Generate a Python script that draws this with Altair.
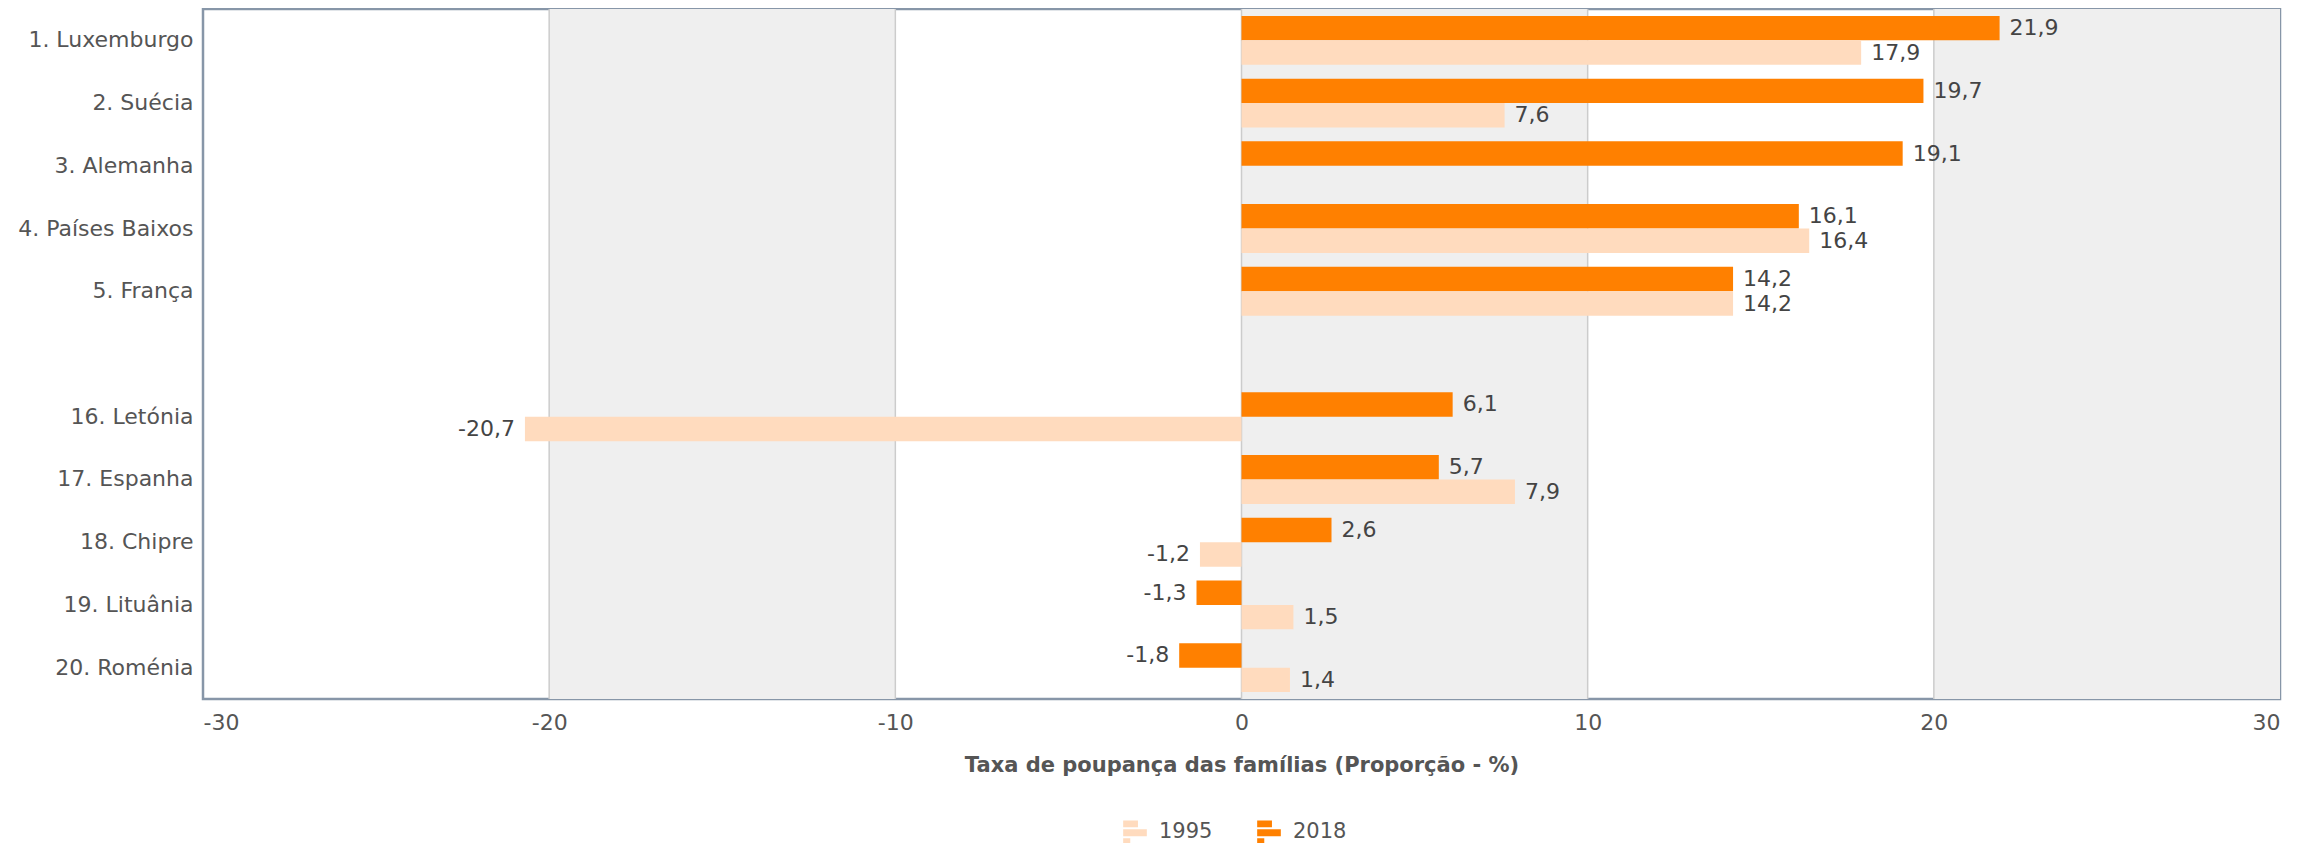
import altair as alt
import pandas as pd

# ---------------- data ----------------
countries = ["1. Luxemburgo", "2. Suécia", "3. Alemanha", "4. Países Baixos", "5. França",
             "16. Letónia", "17. Espanha", "18. Chipre", "19. Lituânia", "20. Roménia"]
gap_label = " "
values_2018 = [21.9, 19.7, 19.1, 16.1, 14.2, 6.1, 5.7, 2.6, -1.3, -1.8]
values_1995 = [17.9, 7.6, None, 16.4, 14.2, -20.7, 7.9, -1.2, 1.5, 1.4]
series = ["1995", "2018"]
x_ticks = [-30, -20, -10, 0, 10, 20, 30]
grid_ticks = [-20, -10, 0, 10, 20]
shaded_from = [-20, 0, 20]
shaded_to = [-10, 10, 30]

y_domain = countries[:5] + [gap_label] + countries[5:]

rows = []
for c, v18, v95 in zip(countries, values_2018, values_1995):
    for s, v in (("2018", v18), ("1995", v95)):
        if v is None:
            continue
        rows.append({"country": c, "series": s, "value": v,
                     "label": f"{v:.1f}".replace(".", ",")})
df = pd.DataFrame(rows)
bands_df = pd.DataFrame({"start": shaded_from, "end": shaded_to})
grid_df = pd.DataFrame({"tick": grid_ticks})

# ---------------- styles ----------------
DARK = "#FF8000"
LIGHT = "#FFDBBE"
TEXT = "#444444"
FONT = "DejaVu Sans"

x_scale = alt.Scale(domain=[-30, 30], nice=False, zero=False)
x_axis = alt.Axis(values=x_ticks, grid=False, domain=False, ticks=False,
                  labelExpr="'' + datum.value",
                  labelFontSize=22, labelColor="#555555", labelPadding=13,
                  labelFont=FONT,
                  title="Taxa de poupança das famílias (Proporção - %)",
                  titleFontSize=21, titleFontWeight="bold", titleColor="#555555",
                  titlePadding=21, titleFont=FONT)
y_scale = alt.Scale(domain=y_domain, paddingInner=0.22, paddingOuter=0.11)
y_axis = alt.Axis(title=None, domain=False, ticks=False, labelFontSize=22,
                  labelColor="#555555", labelPadding=10, labelLimit=0, labelFont=FONT)
off_scale = alt.Scale(domain=["2018", "1995"], paddingInner=0, paddingOuter=0)

legend_path = ("M-1,-1H0.25V-0.42H-1Z M-1,-0.25H1V0.33H-1Z M-1,0.5H-0.4V1.05H-1Z")

bands = alt.Chart(bands_df).mark_rect(color="#EFEFEF").encode(
    x=alt.X("start:Q", scale=x_scale, axis=x_axis),
    x2="end:Q",
)

grid = alt.Chart(grid_df).mark_rule(color="#CCCCCC", strokeWidth=1.5).encode(
    x=alt.X("tick:Q", scale=x_scale),
)

bars = alt.Chart(df).mark_bar().encode(
    y=alt.Y("country:N", scale=y_scale, axis=y_axis, sort=y_domain),
    x=alt.X("value:Q", scale=x_scale),
    yOffset=alt.YOffset("series:N", scale=off_scale),
    color=alt.Color("series:N",
                    scale=alt.Scale(domain=series, range=[LIGHT, DARK]),
                    legend=alt.Legend(title=None, orient="none", legendX=920, legendY=811,
                                      direction="horizontal", symbolType=legend_path,
                                      symbolSize=560, symbolStrokeWidth=0,
                                      labelFontSize=21, labelColor="#555555",
                                      labelFont=FONT, labelOffset=12, columnPadding=44,
                                      padding=0)),
)

text_common = dict(
    y=alt.Y("country:N", scale=y_scale, axis=y_axis, sort=y_domain),
    x=alt.X("value:Q", scale=x_scale),
    yOffset=alt.YOffset("series:N", scale=off_scale),
    text="label:N",
)

labels_pos = alt.Chart(df).transform_filter("datum.value >= 0").mark_text(
    align="left", baseline="middle", dx=10, fontSize=22, color=TEXT, font=FONT
).encode(**text_common)

labels_neg = alt.Chart(df).transform_filter("datum.value < 0").mark_text(
    align="right", baseline="middle", dx=-10, fontSize=22, color=TEXT, font=FONT
).encode(**text_common)

chart = alt.layer(bands, grid, bars, labels_pos, labels_neg).properties(
    width=2077, height=690,
    autosize=alt.AutoSizeParams(type="none"),
    padding={"left": 195, "top": 1, "right": 32, "bottom": 147},
).configure(font=FONT).configure_view(stroke="#8796A8", strokeWidth=2.5)

chart.save("out.html", embed_options={"renderer": "svg", "actions": False})
